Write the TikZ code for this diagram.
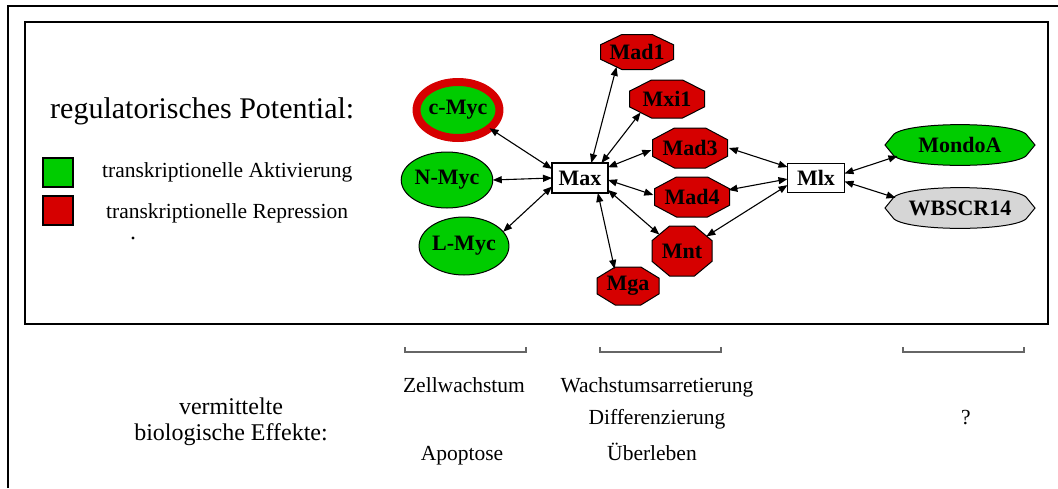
\documentclass[tikz,border=0pt]{standalone}
\usepackage{fontspec}
\setmainfont{Liberation Serif}
\usetikzlibrary{arrows.meta,shapes.geometric,calc}
\definecolor{actgreen}{RGB}{0,204,0}
\definecolor{repred}{RGB}{214,0,0}
\definecolor{unkgray}{RGB}{214,214,214}
\tikzset{
  frameline/.style={line width=2pt,black},
  tf/.style={font=\bfseries\fontsize{22}{24}\selectfont,inner sep=0pt,outer sep=0pt,text=black},
  greennode/.style={tf,ellipse,draw=black,line width=1pt,fill=actgreen},
  octofill/.style={draw=black,line width=1pt,fill=repred},
  octonode/.style={tf,ellipse},
  boxnode/.style={tf,rectangle,draw=black,line width=1.2pt,fill=white,minimum width=56pt,minimum height=30pt},
  lng/.style={tf},
  link/.style={line width=1.1pt,{Triangle[length=9pt,width=7pt]}-{Triangle[length=9pt,width=7pt]}},
  bracket/.style={line width=1.1pt,draw=gray!80!black},
  legtext/.style={font=\fontsize{21.5}{24}\selectfont,inner sep=0pt,anchor=base west},
  efftext/.style={font=\fontsize{21.5}{24}\selectfont,inner sep=0pt,anchor=base},
  legsq/.style={draw=black,line width=2pt,minimum width=30pt,minimum height=29pt,inner sep=0pt}
}
% octagon node: name, x, y, w, h, text
\newcommand\octo[6]{%
  \draw[octofill] ({#2+#4/2},{#3-0.4142*#5/2}) -- ({#2+#4/2},{#3+0.4142*#5/2})
     -- ({#2+0.4142*#4/2},{#3+#5/2}) -- ({#2-0.4142*#4/2},{#3+#5/2})
     -- ({#2-#4/2},{#3+0.4142*#5/2}) -- ({#2-#4/2},{#3-0.4142*#5/2})
     -- ({#2-0.4142*#4/2},{#3-#5/2}) -- ({#2+0.4142*#4/2},{#3-#5/2}) -- cycle;
  \node[octonode,minimum width=#4pt,minimum height=#5pt] (#1) at (#2,#3) {#6};
}
% long pointed ellipse: name, x, y, fill colour, text
\newcommand\lnode[5]{%
  \draw[draw=black,line width=1pt,fill=#4] ({#2-75},#3) -- ({#2-66},{#3-11})
     .. controls ({#2-50},{#3-23.5}) and ({#2+50},{#3-23.5}) .. ({#2+66},{#3-11})
     -- ({#2+75},#3) -- ({#2+66},{#3+11})
     .. controls ({#2+50},{#3+23.5}) and ({#2-50},{#3+23.5}) .. ({#2-66},{#3+11}) -- cycle;
  \node[lng,ellipse,minimum width=150pt,minimum height=40pt] (#1) at (#2,#3) {#5};
}
\begin{document}
\begin{tikzpicture}[x=1pt,y=-1pt]
\useasboundingbox (0,0) rectangle (1058,488);
% frames
\draw[frameline] (8,488) -- (8,6) -- (1058,6);
\draw[frameline] (25,22) rectangle (1048,324);

% legend
\node[anchor=base west,inner sep=0pt,font=\fontsize{30}{34}\selectfont] (regpot) at (50,118) {regulatorisches Potential:};
\node[legsq,fill=actgreen] (sqg) at (58,172.5) {};
\node[legsq,fill=repred] (sqr) at (58,210.5) {};
\node[legtext] (lakt) at (102,177) {transkriptionelle Aktivierung};
\node[legtext] (lrep) at (106,218) {transkriptionelle Repression};
\fill (133,238) circle (1.6);

% green nodes
\node[greennode,draw=repred,line width=8pt,minimum width=82pt,minimum height=56pt] (cmyc) at (458,110) {c-Myc};
\node[greennode,minimum width=80pt,minimum height=56pt] (nmyc) at (447,180) {N-Myc};
\node[greennode,minimum width=78pt,minimum height=58pt] (lmyc) at (464,246) {L-Myc};

% red nodes
\octo{mad1}{637}{52}{73}{35}{Mad1}
\octo{mxi1}{667}{99}{75}{38}{Mxi1}
\octo{mad3}{690}{148}{75}{40}{Mad3}
\octo{mad4}{692}{197}{75}{40}{Mad4}
\octo{mnt}{682}{251}{60}{50}{Mnt}
\octo{mga}{628}{286}{62}{38}{Mga}

% boxes
\node[boxnode] (max) at (580,178) {Max};
\node[boxnode,minimum width=57pt,minimum height=29pt] (mlx) at (816,178) {Mlx};

% right nodes
\lnode{mondoa}{960}{145}{actgreen}{MondoA}
\lnode{wbscr}{960}{208}{unkgray}{WBSCR14}

% links
\draw[link] (cmyc.-30) -- (max.162);
\draw[link] (nmyc.east) -- (max.west);
\draw[link] (lmyc.20) -- (max.197);
\draw[link] (max.53) -- (mad1.216);
\draw[link] (max.35) -- (mxi1.207);
\draw[link] (max.21) -- (mad3.183);
\draw[link] (max.-4) -- (mad4.177);
\draw[link] (max.-23) -- (mnt.144);
\draw[link] (max.-40) -- (mga.128);
\draw[link] (mad3.east) -- (mlx.159);
\draw[link] (mad4.11) -- (mlx.182);
\draw[link] (mnt.31) -- (mlx.194);
\draw[link] (mlx.9) -- (mondoa.190);
\draw[link] (mlx.-7) -- (wbscr.171);

% brackets
\draw[bracket] (405,347) -- (405,352) -- (526,352) -- (526,347);
\draw[bracket] (600,347) -- (600,352) -- (721,352) -- (721,347);
\draw[bracket] (903,347) -- (903,352) -- (1024,352) -- (1024,347);

% effects
\node[anchor=base,inner sep=0pt,font=\fontsize{24}{26}\selectfont] (verm) at (231,414) {vermittelte};
\node[anchor=base,inner sep=0pt,font=\fontsize{24}{26}\selectfont] (bioeff) at (231,440) {biologische Effekte:};
\node[efftext] (zell) at (464,392) {Zellwachstum};
\node[efftext] (apop) at (462,460) {Apoptose};
\node[efftext] (wach) at (657,392) {Wachstumsarretierung};
\node[efftext] (diff) at (657,424) {Differenzierung};
\node[efftext] (uebl) at (652,460) {Überleben};
\node[efftext] (quest) at (966,424) {?};
\end{tikzpicture}
\end{document}
